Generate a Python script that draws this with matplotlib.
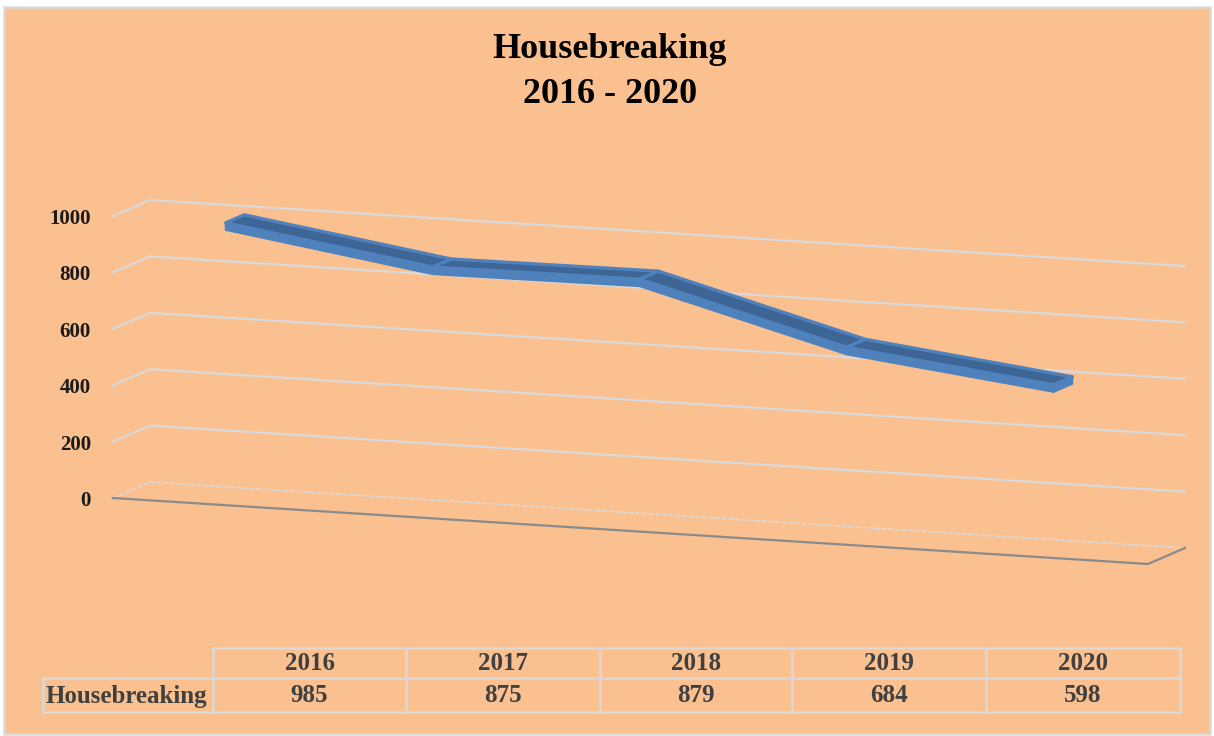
import numpy as np
import matplotlib.pyplot as plt
from matplotlib.patches import Rectangle, Polygon

years = ["2016", "2017", "2018", "2019", "2020"]
housebreaking = [985, 875, 879, 684, 598]
series_name = "Housebreaking"
y_ticks = [0, 200, 400, 600, 800, 1000]
title = "Housebreaking\n2016 - 2020"

bg = "#fac090"
grid_col = "#d9d9d9"
blue = "#4f81bd"
blue_dark = "#3d6596"
serif = "Liberation Serif"

# simple oblique projection of the 3-D plot box to pixel coordinates
# c = category position (0..5), v = value, d = depth (0 back, 1 front)
def proj(c, v, d):
    c = np.asarray(c, dtype=float)
    v = np.asarray(v, dtype=float)
    x = 150 + 207 * c - 37 * d
    y = 482 + 13.2 * c - 0.282 * v + 16 * d
    return x, y

fig = plt.figure(figsize=(12.14, 7.36), dpi=100)
fig.patch.set_facecolor("white")
ax = fig.add_axes([0, 0, 1, 1])
ax.set_xlim(0, 1214)
ax.set_ylim(736, 0)
ax.axis("off")

ax.add_patch(Rectangle((4, 7), 1206, 727, facecolor=bg, edgecolor=grid_col, lw=1.8, zorder=0))

ax.text(610, 72, title, ha="center", va="center", fontsize=26, fontweight="bold",
        family=serif, linespacing=1.45, color="black")

# gridlines (side wall + back wall)
n = len(years)
for v in y_ticks:
    xf, yf = proj(0, v, 1)
    xb, yb = proj(0, v, 0)
    xr, yr = proj(n, v, 0)
    if v == 0:
        ax.plot([xf, xb, xr], [yf, yb, yr], color=grid_col, lw=1.2, ls=(0, (3, 1)), zorder=1)
    else:
        ax.plot([xf, xb, xr], [yf, yb, yr], color=grid_col, lw=1.6, zorder=1)
    ax.text(91, yf + 3, str(v), ha="right", va="center", fontsize=15,
            fontweight="bold", family=serif, color="#1a1a1a")

# floor front edge
x1, y1 = proj(0, 0, 1)
x2, y2 = proj(n, 0, 1)
x3, y3 = proj(n, 0, 0)
ax.plot([x1, x2, x3], [y1, y2, y3], color="#8a8a8a", lw=1.6, zorder=1)

# ribbon line
cats = np.arange(n) + 0.5
vals = np.array(housebreaking, dtype=float)
d0, d1 = 0.25, 0.75
thick = 25
bx, by = proj(cats, vals, d0)
fx, fy = proj(cats, vals, d1)
fbx, fby = proj(cats, vals - thick, d1)

front = np.column_stack([np.r_[fx, fbx[::-1]], np.r_[fy, fby[::-1]]])
ax.add_patch(Polygon(front, closed=True, facecolor=blue, edgecolor=blue, lw=1.5,
                     joinstyle="round", zorder=3))
# right end cap
ex, ey = proj(cats[-1], vals[-1] - thick, d0)
cap = [[bx[-1], by[-1]], [fx[-1], fy[-1]], [fbx[-1], fby[-1]], [ex, ey]]
ax.add_patch(Polygon(cap, closed=True, facecolor=blue, edgecolor=blue, lw=1.5, zorder=3))
# top face, one panel per segment
for i in range(n - 1):
    seg = [[bx[i], by[i]], [bx[i + 1], by[i + 1]], [fx[i + 1], fy[i + 1]], [fx[i], fy[i]]]
    ax.add_patch(Polygon(seg, closed=True, facecolor=blue_dark, edgecolor=blue, lw=2.4,
                         joinstyle="round", zorder=4))

# data table
col_edges = [213, 406, 600, 792, 986, 1180]
label_left = 43
row_top, row_mid, row_bot = 648, 678, 712
tc = "#d9d9d9"
lw_t = 1.8
ax.plot([col_edges[0], col_edges[-1]], [row_top, row_top], color=tc, lw=lw_t)
ax.plot([label_left, col_edges[-1]], [row_mid, row_mid], color=tc, lw=lw_t)
ax.plot([label_left, col_edges[-1]], [row_bot, row_bot], color=tc, lw=lw_t)
for x in col_edges:
    ax.plot([x, x], [row_top, row_bot], color=tc, lw=lw_t)
ax.plot([label_left, label_left], [row_mid, row_bot], color=tc, lw=lw_t)

txt_col = "#404040"
for i in range(n):
    cx = (col_edges[i] + col_edges[i + 1]) / 2
    ax.text(cx, (row_top + row_mid) / 2 + 1, years[i], ha="center", va="center",
            fontsize=18, fontweight="bold", family=serif, color=txt_col)
    ax.text(cx, (row_mid + row_bot) / 2 + 1, str(housebreaking[i]), ha="center",
            va="center", fontsize=18, fontweight="bold", family=serif, color=txt_col)
ax.text(label_left + 3, (row_mid + row_bot) / 2 + 1, series_name, ha="left", va="center",
        fontsize=18, fontweight="bold", family=serif, color=txt_col)

fig.savefig("out.png", dpi=100, facecolor=fig.get_facecolor())
